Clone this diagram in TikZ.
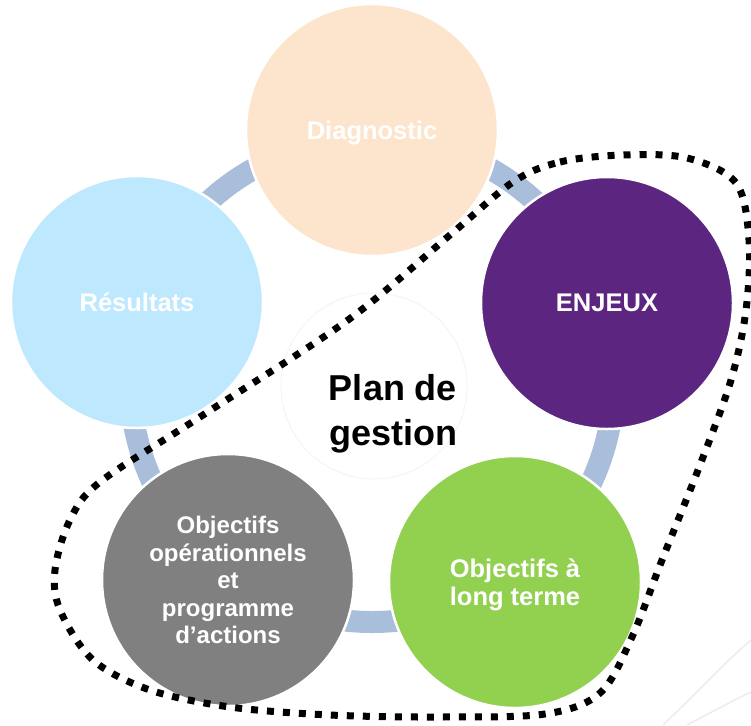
\documentclass[tikz,border=0pt]{standalone}
\usepackage{fontspec}
\setmainfont{Liberation Sans}
\definecolor{ringc}{HTML}{A9BEDB}
\definecolor{peach}{HTML}{FDE5CD}
\definecolor{skyb}{HTML}{BEE8FD}
\definecolor{purp}{HTML}{5C2680}
\definecolor{lgreen}{HTML}{92D050}
\definecolor{dgray}{HTML}{808080}
\tikzset{
  bub/.style={circle, minimum size=252pt, inner sep=0pt, draw=white, line width=2.5pt, text=white, align=center, text depth=0pt, font=\bfseries\fontsize{25.5}{28}\selectfont},
  ring/.style={draw=ringc, line width=22pt},
  dotline/.style={draw=black, line width=7pt, dash pattern=on 7pt off 9pt},
  deco/.style={draw=gray!15, line width=1.5pt},
}
\begin{document}
\begin{tikzpicture}[x=1pt, y=-1pt]
\useasboundingbox (0,0) rectangle (751,725);
\fill[white] (0,0) rectangle (751,725);
\draw[ring] (372,380) circle[radius=242pt];
\node[circle, minimum size=186pt, draw=gray!8, line width=1pt] (hub) at (374,386) {};
\node[font=\bfseries\fontsize{36}{45}\selectfont, align=center] (plan) at (393,414) {Plan de\\gestion};
\node[bub, fill=peach] (diag) at (372,130) {Diagnostic};
\node[bub, fill=skyb] (res) at (137,302) {Résultats};
\node[bub, fill=purp] (enj) at (607,303) {ENJEUX};
\node[bub, fill=lgreen] (olt) at (515,582) {Objectifs à\\long terme};
\node[bub, fill=dgray, font=\bfseries\fontsize{24}{27.5}\selectfont] (oop) at (228,580) {Objectifs\\opérationnels\\et\\programme\\d’actions};
\draw[dotline] plot[smooth cycle, tension=0.55] coordinates {(513,182) (560,162) (623,155) (687,158) (736,183) (749,240) (746,310) (731,380) (700,465) (662,560) (632,637) (600,693) (545,714) (440,717) (330,715) (230,707) (150,690) (93,660) (60,610) (55,570) (70,520) (100,482) (200,417) (348,320) (450,235)};
\draw[deco] (663,725) .. controls (700,690) and (722,665) .. (751,640);
\draw[deco] (687,725) .. controls (712,712) and (732,701) .. (751,692);
\end{tikzpicture}
\end{document}
